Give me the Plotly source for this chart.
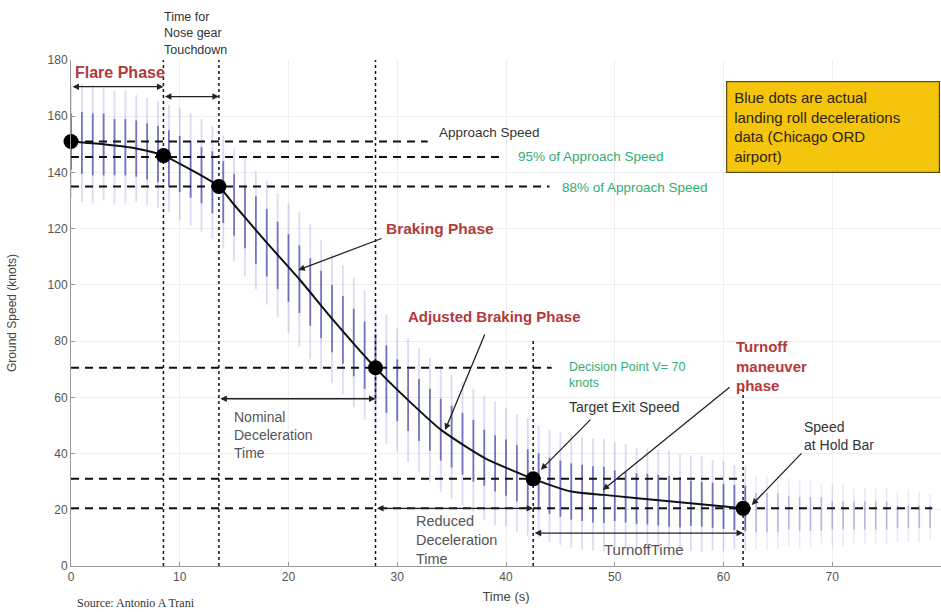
import plotly.graph_objects as go

# ---- landing roll data (ground speed in knots vs. time in seconds) ----
# observed speed spread, one sample column per second
sample_t = list(range(80))
sample_mid = [151, 150.5, 150, 150, 149, 149, 148.5, 147.5, 146.5, 145,
              143, 141, 139, 136.5, 133, 128.5, 124, 119.5, 115, 110.5,
              106, 102, 97.5, 93, 88, 84, 79.5, 75, 70.5, 66.5,
              62.5, 59, 55.5, 52, 48.5, 46, 43.5, 41, 38.5, 36.5,
              35, 33, 31.5, 30, 28.5, 27.5, 26.5, 26, 25.5, 25.3,
              25, 24.5, 24, 23.8, 23.4, 23, 22.7, 22.3, 22, 21.6,
              21.2, 20.8, 20.5, 19, 19, 19, 19, 18.5, 18.5, 18.5,
              18, 18, 18, 18, 18, 18, 17.5, 17.5, 17.5, 17.5]
sample_outer = [20, 21, 21, 20, 20, 20, 19, 19, 19, 19,
                20, 20, 20, 20, 20, 20, 21, 21, 22, 22,
                23, 24, 24, 23, 23, 23, 23, 23, 23, 23,
                22, 22, 22, 22, 22, 22, 22, 22, 22, 22,
                21, 21, 21, 20, 20, 20, 20, 20, 20, 20,
                19, 19, 18, 18, 18, 18, 17, 17, 17, 16,
                16, 15, 15, 13, 13, 13, 12, 12, 12, 11,
                11, 11, 10, 10, 10, 10, 9, 9, 9, 8]
sample_core = [10, 11, 11, 11, 10, 10, 10, 10, 10, 10,
               10, 10, 10, 11, 11, 11, 11, 12, 12, 12,
               12, 12, 12, 12, 12, 12, 12, 12, 12, 12,
               11, 11, 11, 11, 11, 11, 11, 11, 10, 10,
               10, 10, 10, 10, 10, 10, 10, 10, 10, 10,
               9, 9, 9, 9, 9, 9, 9, 8, 8, 8,
               8, 8, 8, 7, 7, 7, 6, 6, 6, 6,
               5, 5, 5, 5, 5, 5, 4, 4, 4, 4]

# mean deceleration profile
profile_t = [0, 3, 6, 8.5, 11, 13.6, 15, 18, 21, 24, 28, 31, 34, 38, 42.5, 46, 49, 55, 61.8]
profile_v = [151, 150, 148.5, 146, 141, 135, 128.5, 115, 102, 88, 70.5, 59, 48.5, 38.5, 31, 26.5, 25.3, 23, 20.5]

# key events along the roll
event_t = [0, 8.5, 13.6, 28, 42.5, 61.8]
event_v = [151, 146, 135, 70.5, 31, 20.5]

# reference speed levels: (speed, end time)
ref_speed = [151, 145.5, 135, 70.5, 31, 20.5]
ref_end = [32.8, 39.9, 44.0, 44.2, 61.6, 79.2]

# phase boundaries: (time, top speed)
phase_t = [8.5, 13.6, 28, 42.5, 61.8]
phase_top = [182, 182, 180, 81, 62.6]

x_ticks = [0, 10, 20, 30, 40, 50, 60, 70, 80]
y_ticks = [0, 20, 40, 60, 80, 100, 120, 140, 160, 180]

FONT = "Liberation Sans"
RED = "#b23a3a"
GREEN = "#2fae74"
INK = "#333333"

fig = go.Figure()


def stripe_layer(half, keep, color, width):
    xs, ys = [], []
    for t, m, h in zip(sample_t, sample_mid, half):
        if keep(t):
            xs += [t, t, None]
            ys += [m - h, m + h, None]
    fig.add_trace(go.Scatter(x=xs, y=ys, mode="lines", hoverinfo="skip",
                             line=dict(color=color, width=width),
                             showlegend=False))


head = lambda t: t <= 62
tail = lambda t: t > 62
stripe_layer(sample_outer, head, "rgba(90,90,200,0.22)", 1.8)
stripe_layer(sample_core, head, "rgba(45,45,160,0.60)", 1.8)
stripe_layer(sample_outer, tail, "rgba(100,100,200,0.14)", 1.6)
stripe_layer(sample_core, tail, "rgba(70,70,180,0.32)", 1.6)

# reference speed levels
for v, e in zip(ref_speed, ref_end):
    fig.add_trace(go.Scatter(x=[0, e], y=[v, v], mode="lines", hoverinfo="skip",
                             line=dict(color="#111", width=2, dash="8px,6px"),
                             showlegend=False))

# phase boundaries
for t, top in zip(phase_t, phase_top):
    fig.add_trace(go.Scatter(x=[t, t], y=[0, top], mode="lines", hoverinfo="skip",
                             cliponaxis=False,
                             line=dict(color="#111", width=1.5, dash="3px,3px"),
                             showlegend=False))

# mean profile and events
fig.add_trace(go.Scatter(x=profile_t, y=profile_v, mode="lines",
                         line=dict(color="#111", width=2, shape="spline", smoothing=0.6),
                         showlegend=False))
fig.add_trace(go.Scatter(x=event_t, y=event_v, mode="markers", cliponaxis=False,
                         marker=dict(color="#000", size=15), showlegend=False))

ann = []


def text(x, y, s, color=INK, size=13, bold=False, anchor="left", yanchor="middle"):
    ann.append(dict(x=x, y=y, xref="x", yref="y", text=f"<b>{s}</b>" if bold else s,
                    showarrow=False, xanchor=anchor, yanchor=yanchor, align="left",
                    font=dict(family=FONT, size=size, color=color)))


def arrow(x0, y0, x1, y1, both=False):
    ann.append(dict(x=x1, y=y1, ax=x0, ay=y0, xref="x", yref="y", axref="x", ayref="y",
                    text="", showarrow=True, arrowhead=2, arrowsize=1, arrowwidth=1.3,
                    arrowcolor="#222", arrowside="end+start" if both else "end"))


# interval arrows
arrow(0, 170.5, 8.5, 170.5, both=True)
arrow(8.5, 167, 13.6, 167, both=True)
arrow(13.6, 59.5, 28, 59.5, both=True)
arrow(28, 20.5, 42.5, 20.5, both=True)
arrow(42.5, 11.7, 61.8, 11.7, both=True)

# pointer arrows
arrow(28.7, 116.7, 20.9, 105.3)
arrow(38.1, 82.9, 34.4, 48.4)
arrow(47.9, 52.6, 43.2, 34.2)
arrow(60.7, 64.0, 48.9, 27.0)
arrow(67.3, 40.6, 62.6, 21.7)

# label above the plot area
ann.append(dict(x=0.1046, y=1.102, xref="paper", yref="paper", xanchor="left", yanchor="top",
                text="Time for<br>Nose gear<br>Touchdown", showarrow=False, align="left",
                font=dict(family=FONT, size=12.5, color=INK)))

text(0.2, 175.5, "Flare Phase", color=RED, size=16, bold=True)
text(33.7, 154.3, "Approach Speed", size=13.5)
text(40.9, 145.6, "95% of Approach Speed", color=GREEN, size=13.5)
text(45.0, 134.6, "88% of Approach Speed", color=GREEN, size=13.5)
text(28.8, 120.2, "Braking Phase", color=RED, size=15.5, bold=True)
text(30.8, 88.8, "Adjusted Braking Phase", color=RED, size=15, bold=True)
text(45.6, 67.9, "Decision Point V= 70<br>knots", color=GREEN, size=12.5)
text(45.6, 56.6, "Target Exit Speed", size=14)
text(61.0, 71.0, "Turnoff<br>maneuver<br>phase", color=RED, size=15, bold=True)
text(67.2, 46.2, "Speed<br>at Hold Bar", size=14)
text(14.8, 46.6, "Nominal<br>Deceleration<br>Time", color="#555", size=14)
text(31.5, 9.2, "Reduced<br>Deceleration<br>Time", color="#555", size=14.5)
text(48.8, 5.8, "TurnoffTime", color="#555", size=15)

# note box
ann.append(dict(x=0.753, y=0.9585, xref="paper", yref="paper", xanchor="left", yanchor="top",
                text="Blue dots are actual<br>landing roll decelerations<br>data (Chicago ORD<br>airport)",
                showarrow=False, align="left", bgcolor="#f5c40c", bordercolor="#5a4a10",
                borderwidth=1.2, borderpad=7, width=198,
                font=dict(family=FONT, size=15, color="#2a2410")))

ann.append(dict(x=0.005, y=-0.073, xref="paper", yref="paper", xanchor="left", yanchor="middle",
                text="Source: Antonio A Trani", showarrow=False,
                font=dict(family="Liberation Serif", size=12, color=INK)))

axis_common = dict(showline=True, linecolor="#9a9a9a", linewidth=1, mirror=False,
                   showgrid=True, gridcolor="#eeeeee", gridwidth=1, zeroline=False,
                   ticks="inside", ticklen=4, tickcolor="#9a9a9a",
                   tickfont=dict(family=FONT, size=12, color="#555"))

fig.update_layout(
    width=941, height=612,
    margin=dict(l=71, r=0, t=60, b=46),
    paper_bgcolor="white", plot_bgcolor="white",
    annotations=ann,
    xaxis=dict(range=[0, 80], tickvals=x_ticks, ticktext=[str(v) for v in x_ticks],
               title=dict(text="Time (s)", standoff=8,
                          font=dict(family=FONT, size=13, color="#444")),
               **axis_common),
    yaxis=dict(range=[0, 180], tickvals=y_ticks, ticktext=[str(v) for v in y_ticks],
               title=dict(text="Ground Speed (knots)", standoff=28,
                          font=dict(family=FONT, size=12, color="#444")),
               **axis_common),
)

fig.write_html("out.html")
